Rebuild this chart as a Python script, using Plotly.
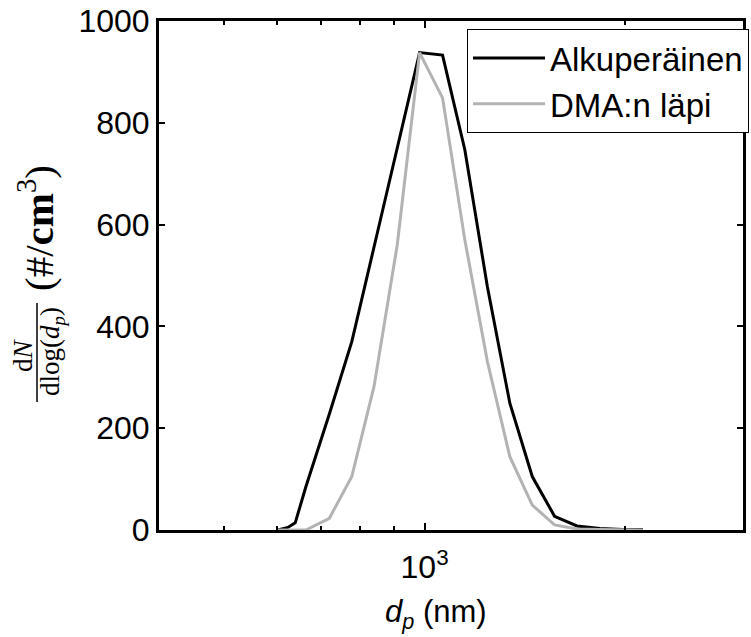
import plotly.graph_objects as go

# particle diameter (nm)
dp = [603, 624, 640, 664, 720, 778, 840, 910, 983, 1064, 1149, 1242, 1342,
      1450, 1566, 1692, 1831, 1979, 2123]
# dN/dlog(dp) (#/cm3)
alkuperainen = [0, 5, 14, 85, 228, 370, 556, 749, 938, 933, 747, 478, 249,
                105, 27, 8, 3, 1, 1]
dma_lapi = [0, 0, 0, 0, 23, 105, 282, 560, 938, 849, 570, 331, 144,
            49, 10, 2, 1, 0, 0]
names = ["Alkuperäinen", "DMA:n läpi"]
y_ticks = [0, 200, 400, 600, 800, 1000]
x_major = [1000]
x_major_text = ["10<sup>3</sup>"]
x_minor = [500, 600, 700, 800, 900, 2000]

L, R, T, B = 159, 8, 21, 107
W, H = 751, 637
pw, ph = W - L - R, H - T - B

def px(x):
    return (x - L) / pw

def py(y):
    return (H - B - y) / ph

fig = go.Figure()
fig.add_trace(go.Scatter(x=dp, y=alkuperainen, mode="lines", name=names[0],
                         line=dict(color="black", width=3)))
fig.add_trace(go.Scatter(x=dp, y=dma_lapi, mode="lines", name=names[1],
                         line=dict(color="#b3b3b3", width=3)))

axis_font = dict(family="Liberation Sans, Arial, sans-serif", size=32, color="black")

fig.update_layout(
    width=W, height=H,
    margin=dict(l=L, r=R, t=T, b=B, autoexpand=False),
    paper_bgcolor="white", plot_bgcolor="white",
    font=axis_font,
    showlegend=True,
    legend=dict(x=px(467), y=py(29), xanchor="left", yanchor="top",
                bordercolor="black", borderwidth=1, bgcolor="white",
                font=dict(family="Liberation Sans, Arial, sans-serif", size=33),
                itemwidth=72, tracegroupgap=0),
    xaxis=dict(type="log", range=[2.6021, 3.4771],
               tickmode="array", tickvals=x_major, ticktext=x_major_text,
               ticks="inside", ticklen=7, tickwidth=2, tickcolor="black",
               showline=True, linewidth=3, linecolor="black", mirror="ticks",
               showgrid=False, zeroline=False,
               minor=dict(tickmode="array", tickvals=x_minor, ticks="inside",
                          ticklen=4, tickwidth=2, tickcolor="black", showgrid=False),
               tickfont=axis_font, ticklabelstandoff=7),
    yaxis=dict(range=[0, 1000], tickmode="array", tickvals=y_ticks,
               ticks="inside", ticklen=6, tickwidth=2, tickcolor="black",
               showline=True, linewidth=3, linecolor="black", mirror="ticks",
               showgrid=False, zeroline=False, tickfont=axis_font),
)

# x-axis title
fig.add_annotation(text="<i>d</i><sub><i>p</i></sub> (nm)", xref="paper", yref="paper",
                   x=px(436), y=py(592), xanchor="center", yanchor="top",
                   showarrow=False, font=dict(family="Liberation Sans, Arial, sans-serif",
                                              size=31, color="black"))

serif = "Liberation Serif, Times New Roman, serif"
fig.add_annotation(text="(#/<b>cm</b><sup>3</sup>)", xref="paper", yref="paper",
                   x=px(36), y=py(228), textangle=-90, showarrow=False,
                   xanchor="center", yanchor="middle",
                   font=dict(family=serif, size=41, color="black"))
fig.add_annotation(text="d<i>N</i>", xref="paper", yref="paper",
                   x=px(23), y=py(355), textangle=-90, showarrow=False,
                   xanchor="center", yanchor="middle",
                   font=dict(family=serif, size=27, color="black"))
fig.add_annotation(text="dlog(<i>d<sub>p</sub></i>)", xref="paper", yref="paper",
                   x=px(52), y=py(352), textangle=-90, showarrow=False,
                   xanchor="center", yanchor="middle",
                   font=dict(family=serif, size=27, color="black"))
fig.add_shape(type="line", xref="paper", yref="paper",
              x0=px(37), x1=px(37), y0=py(402), y1=py(303),
              line=dict(color="black", width=1.5))

fig.write_html("out.html")
